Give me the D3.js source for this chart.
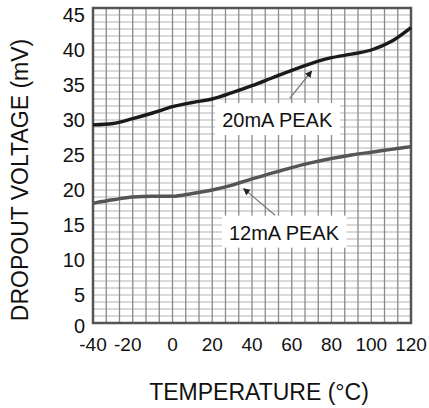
<!DOCTYPE html>
<html>
<head>
<meta charset="utf-8">
<script src="https://cdn.jsdelivr.net/npm/d3@7"></script>
<style>
  body { margin: 0; background: #fff; }
  text { font-family: "Liberation Sans", Arial, sans-serif; fill: #111; }
</style>
</head>
<body>
<svg id="chart" width="429" height="408"></svg>
<script>
// data (temperature in degC, dropout in mV)
const temps = [-40, -30, -20, -10, 0, 10, 20, 30, 40, 50, 60, 70, 80, 90, 100, 110, 120];
const peak20 = [28.3, 28.5, 29.2, 30.0, 30.9, 31.5, 32.0, 32.9, 33.9, 35.0, 36.1, 37.1, 37.9, 38.4, 39.0, 40.2, 42.2];
const peak12 = [17.1, 17.6, 18.0, 18.1, 18.1, 18.5, 19.0, 19.7, 20.6, 21.4, 22.2, 22.9, 23.5, 24.0, 24.4, 24.8, 25.2];
const xTicks = [-40, -20, 0, 20, 40, 60, 80, 100, 120];
const yTicks = [0, 5, 10, 15, 20, 25, 30, 35, 40, 45];

const width = 429, height = 408;
const margin = { top: 8, right: 18, bottom: 85, left: 93 };

const svg = d3.select('#chart');

const x = d3.scaleLinear().domain([-40, 120]).range([margin.left, width - margin.right]);
const y = d3.scaleLinear().domain([0, 45]).range([height - margin.bottom, margin.top]);

// grid: horizontal every 1 mV, vertical every 20/3 degC
const grid = svg.append('g');
grid.selectAll('.hl')
  .data(d3.range(1, 45))
  .enter()
  .append('line')
  .attr('x1', x(-40)).attr('x2', x(120))
  .attr('y1', d => y(d)).attr('y2', d => y(d))
  .attr('stroke', '#b4b4b4')
  .attr('stroke-width', 1.2);

grid.selectAll('.vl')
  .data(d3.range(1, 24).map(i => -40 + i * 20 / 3))
  .enter()
  .append('line')
  .attr('x1', d => x(d)).attr('x2', d => x(d))
  .attr('y1', y(0)).attr('y2', y(45))
  .attr('stroke', '#8a8a8a')
  .attr('stroke-width', 1.3);

svg.append('rect')
  .attr('x', x(-40)).attr('y', y(45))
  .attr('width', x(120) - x(-40)).attr('height', y(0) - y(45))
  .attr('fill', 'none')
  .attr('stroke', '#555')
  .attr('stroke-width', 2.5);

// label boxes + arrows
function note(label, tx, ty, from, to) {
  const g = svg.append('g');
  const t = g.append('text')
    .attr('x', x(tx)).attr('y', y(ty))
    .attr('font-size', 20)
    .text(label);
  const b = t.node().getBBox();
  g.insert('rect', 'text')
    .attr('x', b.x - 7).attr('y', b.y - 6)
    .attr('width', b.width + 14).attr('height', b.height + 10)
    .attr('fill', '#fff');
  g.append('line')
    .attr('x1', x(from[0])).attr('y1', y(from[1]))
    .attr('x2', x(to[0])).attr('y2', y(to[1]))
    .attr('stroke', '#777')
    .attr('stroke-width', 1.2)
    .attr('marker-end', 'url(#arrow)');
}

svg.append('defs').append('marker')
  .attr('id', 'arrow')
  .attr('viewBox', '0 0 10 10')
  .attr('refX', 9).attr('refY', 5)
  .attr('markerWidth', 7).attr('markerHeight', 7)
  .attr('markerUnits', 'userSpaceOnUse')
  .attr('orient', 'auto')
  .append('path')
  .attr('d', 'M0,0L10,5L0,10z')
  .attr('fill', '#222');

note('20mA PEAK', 25, 28, [59, 32.1], [70, 36.0]);
note('12mA PEAK', 28.4, 11.9, [51.6, 15.4], [35.8, 19.2]);

// curves
const line = d3.line()
  .x((d, i) => x(temps[i]))
  .y(d => y(d))
  .curve(d3.curveMonotoneX);

svg.append('path')
  .attr('d', line(peak20))
  .attr('fill', 'none')
  .attr('stroke', '#1a1a1a')
  .attr('stroke-width', 3.4);

svg.append('path')
  .attr('d', line(peak12))
  .attr('fill', 'none')
  .attr('stroke', '#555')
  .attr('stroke-width', 3.4);

// tick labels
svg.selectAll('.yt')
  .data(yTicks)
  .enter()
  .append('text')
  .attr('x', margin.left - 8)
  .attr('y', d => y(d) + (d === 0 ? 3 : 7))
  .attr('dy', '0.35em')
  .attr('text-anchor', 'end')
  .attr('font-size', 20)
  .text(d => d);

svg.selectAll('.xt')
  .data(xTicks)
  .enter()
  .append('text')
  .attr('x', d => x(d) - (d === -20 ? 5 : 0))
  .attr('y', y(0) + 28)
  .attr('text-anchor', 'middle')
  .attr('font-size', 19)
  .text(d => d);

// axis titles
svg.append('text')
  .attr('x', 259)
  .attr('y', 400)
  .attr('text-anchor', 'middle')
  .attr('font-size', 23)
  .text('TEMPERATURE (°C)');

svg.append('text')
  .attr('transform', 'translate(28,180) rotate(-90)')
  .attr('text-anchor', 'middle')
  .attr('font-size', 23)
  .text('DROPOUT VOLTAGE (mV)');
</script>
</body>
</html>
